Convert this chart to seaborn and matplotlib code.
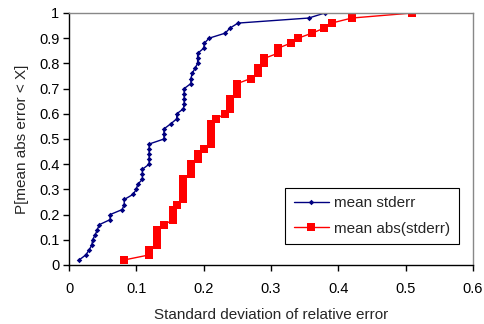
import matplotlib
matplotlib.use("Agg")
import matplotlib.pyplot as plt
import seaborn as sns
import pandas as pd

# cumulative probability levels (shared by both series)
prob = [round(0.02 * (i + 1), 2) for i in range(50)]

stderr_x = [0.015, 0.025, 0.030, 0.034, 0.035, 0.039, 0.042, 0.045, 0.061, 0.061,
            0.079, 0.082, 0.082, 0.095, 0.100, 0.102, 0.109, 0.109, 0.109, 0.119,
            0.119, 0.119, 0.119, 0.119, 0.141, 0.141, 0.141, 0.151, 0.160, 0.160,
            0.170, 0.171, 0.171, 0.171, 0.171, 0.181, 0.181, 0.183, 0.187, 0.191,
            0.191, 0.191, 0.200, 0.201, 0.208, 0.232, 0.239, 0.251, 0.356, 0.380]

abs_stderr_x = [0.082, 0.119, 0.119, 0.130, 0.130, 0.130, 0.130, 0.141, 0.155, 0.155,
                0.155, 0.160, 0.169, 0.169, 0.169, 0.169, 0.169, 0.181, 0.181, 0.181,
                0.191, 0.191, 0.200, 0.211, 0.211, 0.211, 0.211, 0.211, 0.219, 0.231,
                0.239, 0.239, 0.239, 0.250, 0.250, 0.250, 0.270, 0.280, 0.280, 0.290,
                0.290, 0.310, 0.310, 0.329, 0.340, 0.361, 0.379, 0.390, 0.420, 0.510]

sns.set_style("ticks")
plt.rcParams["font.family"] = ["Liberation Sans", "DejaVu Sans"]

df1 = pd.DataFrame({"x": stderr_x, "p": prob})
df2 = pd.DataFrame({"x": abs_stderr_x, "p": prob})

fig = plt.figure(figsize=(4.84, 3.24), dpi=100)
ax = fig.add_axes([69 / 484, 1 - 265 / 324, (473 - 69) / 484, (265 - 13) / 324])

sns.lineplot(data=df1, x="x", y="p", ax=ax, estimator=None, sort=False,
             color="#000080", lw=1, marker="D", markersize=2.8,
             markeredgewidth=0, label="mean stderr")
sns.lineplot(data=df2, x="x", y="p", ax=ax, estimator=None, sort=False,
             color="#ff0000", lw=1, marker="s", markersize=5.2,
             markeredgewidth=0, label="mean abs(stderr)")

ax.set_xlim(0, 0.6)
ax.set_ylim(0, 1)
ax.set_xticks([0, 0.1, 0.2, 0.3, 0.4, 0.5, 0.6])
ax.set_xticklabels(["0", "0.1", "0.2", "0.3", "0.4", "0.5", "0.6"])
ax.set_yticks([i / 10 for i in range(11)])
ax.set_yticklabels(["0", "0.1", "0.2", "0.3", "0.4", "0.5", "0.6", "0.7", "0.8", "0.9", "1"])
ax.tick_params(direction="out", length=4, width=1, labelsize=10.5, colors="black")
ax.tick_params(axis="x", pad=8)
ax.tick_params(axis="y", pad=3)

for s in ["left", "bottom"]:
    ax.spines[s].set_color("black")
    ax.spines[s].set_linewidth(1)
for s in ["top", "right"]:
    ax.spines[s].set_visible(True)
    ax.spines[s].set_color("#888888")
    ax.spines[s].set_linewidth(1)

ax.set_xlabel("Standard deviation of relative error", fontsize=11, labelpad=9)
ax.set_ylabel("P[mean abs error < X]", fontsize=11, labelpad=7)

leg = ax.legend(loc="lower right", bbox_to_anchor=(0.965, 0.083), fontsize=11,
                frameon=True, fancybox=False, framealpha=1, edgecolor="black",
                handlelength=2.3, handletextpad=0.35, borderpad=0.55,
                labelspacing=0.75, borderaxespad=0)
leg.get_frame().set_linewidth(0.8)

plt.savefig("out.png", dpi=100)
plt.close()
